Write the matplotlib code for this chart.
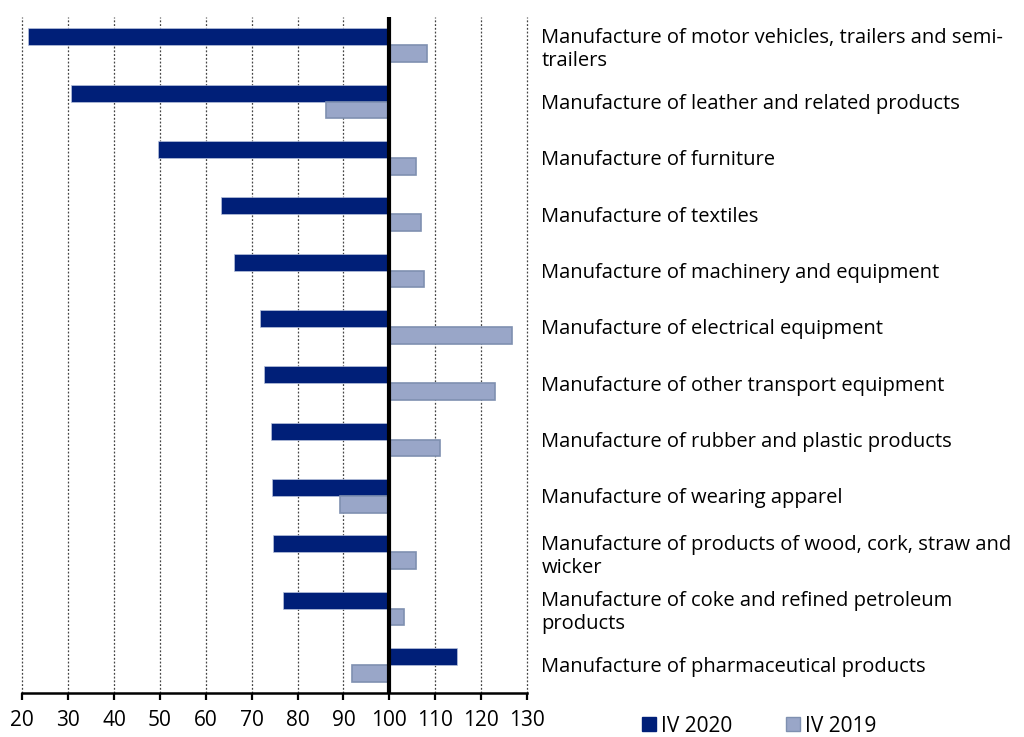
import matplotlib.pyplot as plt
from matplotlib.patches import Patch
import numpy as np

plt.rcParams['font.family'] = ['Open Sans', 'DejaVu Sans']

# categorias (de arriba hacia abajo)
sectors = [
    "Manufacture of motor vehicles, trailers and semi-\ntrailers",
    "Manufacture of leather and related products",
    "Manufacture of furniture",
    "Manufacture of textiles",
    "Manufacture of machinery and equipment",
    "Manufacture of electrical equipment",
    "Manufacture of other transport equipment",
    "Manufacture of rubber and plastic products",
    "Manufacture of wearing apparel",
    "Manufacture of products of wood, cork, straw and\nwicker",
    "Manufacture of coke and refined petroleum\nproducts",
    "Manufacture of pharmaceutical products",
]
iv2020 = [21.2, 30.6, 49.6, 63.2, 66.1, 71.9, 72.6, 74.2, 74.4, 74.7, 76.8, 114.8]
iv2019 = [108.1, 86.3, 105.9, 106.9, 107.5, 126.7, 123.1, 111.1, 89.3, 105.8, 103.1, 91.9]
xticks = list(range(20, 131, 10))

dark = '#001f78'
light = '#99a6c8'

fig = plt.figure(figsize=(10.24, 7.37), dpi=100)
ax = fig.add_axes([22.3/1024, 44/737, 504.7/1024, 676/737])

y = np.arange(len(sectors))
h = 0.3
base = 100
ax.barh(y - h/2, np.array(iv2020) - base, left=base, height=h,
        color=dark, edgecolor='#b8c2dc', linewidth=0.5, label='IV 2020', zorder=2)
ax.barh(y + h/2, np.array(iv2019) - base, left=base, height=h,
        color=light, edgecolor='#7f90b0', linewidth=1.2, label='IV 2019', zorder=2)

ax.axvline(base, color='black', lw=3, zorder=3)

ax.set_xlim(20, 130)
ax.set_ylim(len(sectors) - 0.5, -0.5)
ax.set_xticks(xticks)
ax.grid(axis='x', linestyle=(0, (1.5, 1.5)), color='#444444', lw=0.9, zorder=0)
for gl in ax.get_xgridlines():
    gl.set_clip_on(False)

ax.set_yticks(y)
ax.set_yticklabels(sectors, fontsize=14.5, linespacing=1.2)
ax.yaxis.tick_right()
ax.tick_params(axis='y', length=0, pad=10.3)
ax.tick_params(axis='x', length=5, width=1.6, labelsize=15, pad=7, color='black')

for s in ['top', 'left', 'right']:
    ax.spines[s].set_visible(False)
ax.spines['bottom'].set_linewidth(1.8)

handles = [Patch(facecolor=dark, edgecolor=dark, label='IV 2020'),
           Patch(facecolor=light, edgecolor='#7f90b0', label='IV 2019')]
fig.legend(handles=handles, loc='center left', bbox_to_anchor=(642/1024, 1 - 726/737),
           ncol=2, frameon=False, fontsize=15, handlelength=0.65, handleheight=0.65,
           handletextpad=0.25, columnspacing=2.6, borderpad=0, borderaxespad=0)

fig.savefig('out.png', dpi=100)
